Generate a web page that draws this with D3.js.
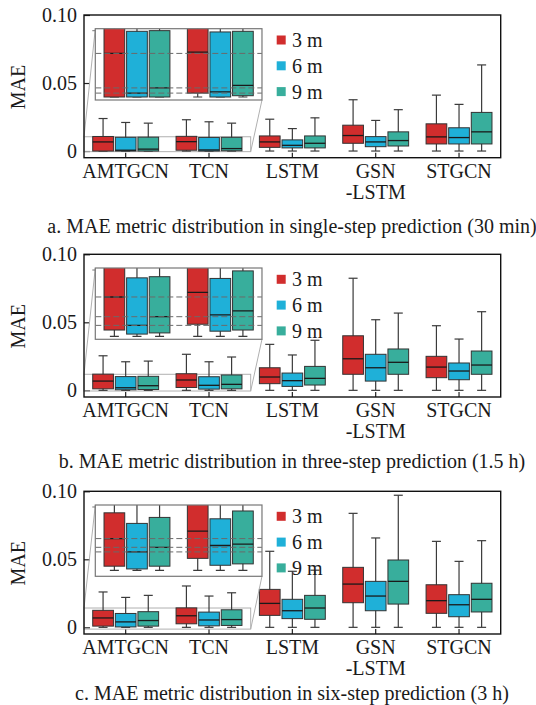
<!DOCTYPE html>
<html>
<head>
<meta charset="utf-8">
<script src="https://cdn.jsdelivr.net/npm/d3@7"></script>
<style>
  html, body { margin: 0; padding: 0; background: #fff; }
  svg { display: block; }
  text { font-family: "Liberation Serif", "Times New Roman", serif; fill: #1a1a1a; }
</style>
</head>
<body>
<svg id="chart" width="536" height="705"></svg>
<script>
// ---------------- DATA ----------------
const categories = ["AMTGCN", "TCN", "LSTM", "GSN-LSTM", "STGCN"];
const categoryLabelLines = [["AMTGCN"], ["TCN"], ["LSTM"], ["GSN", "-LSTM"], ["STGCN"]];
const seriesNames = ["3 m", "6 m", "9 m"];
const seriesColors = ["#d12d2d", "#1fb0d8", "#38ae9c"];
const yTickValues = [0, 0.05, 0.10];
const yTickLabels = ["0", "0.05", "0.10"];
const yAxisTitle = "MAE";
const captions = [
  "a. MAE metric distribution in single-step prediction (30 min)",
  "b. MAE metric distribution in three-step prediction (1.5 h)",
  "c. MAE metric distribution in six-step prediction (3 h)"
];
// each entry: [min, q1, median, q3, max], one per category
// a. single-step (30 min)
const a3m = [[0, 0, 0.0067, 0.0107, 0.0239], [0, 0.0006, 0.0069, 0.0108, 0.0230], [0, 0.0027, 0.0067, 0.0111, 0.0234], [0, 0.0057, 0.0114, 0.0190, 0.0377], [0, 0.0052, 0.0104, 0.0200, 0.0411]];
const a6m = [[0, 0, 0.0006, 0.0101, 0.0210], [0, 0, 0.0008, 0.0100, 0.0215], [0, 0.0023, 0.0042, 0.0082, 0.0165], [0, 0.0032, 0.0067, 0.0106, 0.0225], [0, 0.0052, 0.0099, 0.0171, 0.0343]];
const a9m = [[0, 0, 0.0014, 0.0102, 0.0205], [0, 0.0002, 0.0018, 0.0101, 0.0205], [0, 0.0023, 0.0057, 0.0111, 0.0244], [0, 0.0037, 0.0077, 0.0141, 0.0304], [0, 0.0052, 0.0141, 0.0284, 0.0633]];
// b. three-step (1.5 h)
const b3m = [[0, 0.0011, 0.0068, 0.0119, 0.0254], [0, 0.0021, 0.0076, 0.0122, 0.0265], [0, 0.0049, 0.0098, 0.0166, 0.0338], [0, 0.0118, 0.0232, 0.0401, 0.0824], [0, 0.0093, 0.0171, 0.0250, 0.0475]];
const b6m = [[0, 0.0004, 0.0019, 0.0101, 0.0210], [0, 0.0009, 0.0037, 0.0100, 0.0210], [0, 0.0029, 0.0071, 0.0127, 0.0260], [0, 0.0068, 0.0166, 0.0265, 0.0519], [0, 0.0078, 0.0142, 0.0201, 0.0377]];
const b9m = [[0, 0.0006, 0.0034, 0.0103, 0.0215], [0, 0.0011, 0.0044, 0.0113, 0.0245], [0, 0.0039, 0.0088, 0.0176, 0.0368], [0, 0.0118, 0.0206, 0.0304, 0.0568], [0, 0.0118, 0.0186, 0.0289, 0.0578]];
// c. six-step (3 h)
const c3m = [[0, 0.0009, 0.0069, 0.0125, 0.0260], [0, 0.0026, 0.0085, 0.0143, 0.0304], [0, 0.0088, 0.0176, 0.0279, 0.0559], [0, 0.0181, 0.0318, 0.0441, 0.0838], [0, 0.0103, 0.0196, 0.0313, 0.0632]];
const c6m = [[0, 0.0003, 0.0040, 0.0102, 0.0220], [0, 0.0011, 0.0054, 0.0112, 0.0230], [0, 0.0064, 0.0122, 0.0206, 0.0412], [0, 0.0122, 0.0230, 0.0338, 0.0657], [0, 0.0078, 0.0166, 0.0240, 0.0485]];
const c9m = [[0, 0.0009, 0.0050, 0.0115, 0.0235], [0, 0.0014, 0.0057, 0.0129, 0.0254], [0, 0.0059, 0.0142, 0.0235, 0.0420], [0, 0.0171, 0.0338, 0.0495, 0.0971], [0, 0.0113, 0.0206, 0.0324, 0.0637]];
// zoomed value window shown in each inset [low, high]
const zoomA = [-0.00046, 0.0105];
const zoomB = [-0.0005, 0.0118];
const zoomC = [-0.0013, 0.0142];
const yDomain = [-0.0049, 0.10];

// ---------------- LAYOUT ----------------
const svg = d3.select("#chart");
svg.append("rect").attr("width", 536).attr("height", 705).attr("fill", "#fff");

const plotLeft = 84, plotRight = 500.7, plotH = 142.7;
const FS = 20;
const panels = [
  { top: 15,    series: [a3m, a6m, a9m], zoom: zoomA, caption: captions[0], capY: 233 },
  { top: 254.3, series: [b3m, b6m, b9m], zoom: zoomB, caption: captions[1], capY: 468 },
  { top: 491.3, series: [c3m, c6m, c9m], zoom: zoomC, caption: captions[2], capY: 700 }
];

const x = d3.scaleBand().domain(categories).range([plotLeft, plotRight]);
const xs = d3.scaleBand().domain(seriesNames).range([-32.95, 32.95]).paddingInner(0.084);
const capW = 9;

function drawBoxes(g, xScale, yScale, seriesArr, cats) {
  seriesArr.forEach((arr, si) => {
    const s = seriesNames[si];
    cats.forEach((cat) => {
      const d = arr[categories.indexOf(cat)];
      const cx = xScale(cat) + xScale.bandwidth() / 2 + xs(s) + xs.bandwidth() / 2;
      const bw = xs.bandwidth();
      const bg = g.append("g");
      bg.append("line").attr("x1", cx).attr("x2", cx)
        .attr("y1", yScale(d[0])).attr("y2", yScale(d[4]))
        .attr("stroke", "#3a3a3a").attr("stroke-width", 1.2);
      [d[0], d[4]].forEach(v => {
        bg.append("line").attr("x1", cx - capW / 2).attr("x2", cx + capW / 2)
          .attr("y1", yScale(v)).attr("y2", yScale(v))
          .attr("stroke", "#3a3a3a").attr("stroke-width", 1.2);
      });
      bg.append("rect").attr("x", cx - bw / 2).attr("width", bw)
        .attr("y", yScale(d[3])).attr("height", Math.max(0.5, yScale(d[1]) - yScale(d[3])))
        .attr("fill", seriesColors[si]).attr("stroke", "#333").attr("stroke-width", 1);
      bg.append("line").attr("x1", cx - bw / 2).attr("x2", cx + bw / 2)
        .attr("y1", yScale(d[2])).attr("y2", yScale(d[2]))
        .attr("stroke", "#1a1a1a").attr("stroke-width", 1.3);
    });
  });
}

panels.forEach((p, pi) => {
  const g = svg.append("g").attr("transform", `translate(0,${p.top})`);
  const y = d3.scaleLinear().domain(yDomain).range([plotH, 0]);

  // axes with inward ticks
  const yAxis = d3.axisLeft(y).tickValues(yTickValues)
    .tickFormat((d, i) => yTickLabels[i]).tickSize(-6).tickPadding(7);
  const ya = g.append("g").attr("transform", `translate(${plotLeft},0)`).call(yAxis);
  ya.select(".domain").remove();
  ya.selectAll("line").attr("stroke", "#222").attr("stroke-width", 1.2);
  ya.selectAll("text").attr("font-size", FS).attr("font-family", "Liberation Serif").attr("fill", "#1a1a1a");

  const xAxis = d3.axisBottom(x).tickSize(-5).tickFormat("");
  const xa = g.append("g").attr("transform", `translate(0,${plotH})`).call(xAxis);
  xa.select(".domain").remove();
  xa.selectAll("line").attr("stroke", "#222").attr("stroke-width", 1.2);

  // category labels
  categories.forEach((cat, ci) => {
    const cxl = x(cat) + x.bandwidth() / 2;
    const t = g.append("text").attr("text-anchor", "middle").attr("font-size", FS)
      .attr("x", cxl).attr("y", plotH + 20.5);
    categoryLabelLines[ci].forEach((ln, li) => {
      t.append("tspan").attr("x", cxl).attr("dy", li === 0 ? 0 : 20.5).text(ln);
    });
  });

  // y axis title
  g.append("text").attr("text-anchor", "middle").attr("font-size", FS)
    .attr("transform", `translate(25,${72}) rotate(-90)`).text(yAxisTitle);

  // zoom source rectangle
  const zx1 = plotLeft + 2 * x.step();
  g.append("rect").attr("x", plotLeft).attr("width", zx1 - plotLeft)
    .attr("y", y(p.zoom[1])).attr("height", y(p.zoom[0]) - y(p.zoom[1]))
    .attr("fill", "none").attr("stroke", "#b0b0b0").attr("stroke-width", 1);

  // main boxes
  drawBoxes(g, x, y, p.series, categories);

  // inset
  const insX0 = plotLeft + 11.3, insW = 2 * x.step(), insTop = 13.7, insBot = 85;
  g.append("line").attr("x1", plotLeft).attr("y1", y(p.zoom[1])).attr("x2", insX0).attr("y2", insTop)
    .attr("stroke", "#b0b0b0").attr("stroke-width", 1);
  g.append("line").attr("x1", zx1).attr("y1", y(p.zoom[0])).attr("x2", insX0 + insW).attr("y2", insBot)
    .attr("stroke", "#b0b0b0").attr("stroke-width", 1);

  const ix = d3.scaleBand().domain(categories.slice(0, 2)).range([insX0, insX0 + insW]);
  const iy = d3.scaleLinear().domain(p.zoom).range([insBot, insTop]);
  const clipId = "clip" + pi;
  g.append("clipPath").attr("id", clipId).append("rect")
    .attr("x", insX0).attr("y", insTop).attr("width", insW).attr("height", insBot - insTop);
  g.append("rect").attr("x", insX0).attr("y", insTop).attr("width", insW).attr("height", insBot - insTop)
    .attr("fill", "#fff");
  const ig = g.append("g").attr("clip-path", `url(#${clipId})`);
  drawBoxes(ig, ix, iy, p.series, categories.slice(0, 2));
  p.series.forEach(arr => {
    ig.append("line").attr("x1", insX0).attr("x2", insX0 + insW)
      .attr("y1", iy(arr[0][2])).attr("y2", iy(arr[0][2]))
      .attr("stroke", "#6a6a6a").attr("stroke-width", 1).attr("stroke-dasharray", "6,3");
  });
  g.append("rect").attr("x", insX0).attr("y", insTop).attr("width", insW).attr("height", insBot - insTop)
    .attr("fill", "none").attr("stroke", "#777").attr("stroke-width", 1.2);
  g.append("line").attr("x1", insX0 - 3).attr("x2", insX0).attr("y1", insTop + 2).attr("y2", insTop + 2)
    .attr("stroke", "#777").attr("stroke-width", 1);

  // frame
  g.append("rect").attr("x", plotLeft).attr("y", 0).attr("width", plotRight - plotLeft).attr("height", plotH)
    .attr("fill", "none").attr("stroke", "#111").attr("stroke-width", 1.4);

  // legend
  seriesNames.forEach((s, si) => {
    const ly = 25 + si * 25.8;
    g.append("rect").attr("x", 276.7).attr("y", ly - 4.5).attr("width", 9).attr("height", 9)
      .attr("fill", seriesColors[si]);
    g.append("text").attr("x", 292).attr("y", ly).attr("dy", "0.35em").attr("font-size", FS).text(s);
  });

  // caption
  svg.append("text").attr("x", 292).attr("y", p.capY).attr("text-anchor", "middle")
    .attr("font-size", 20).text(p.caption);
});
</script>
</body>
</html>
